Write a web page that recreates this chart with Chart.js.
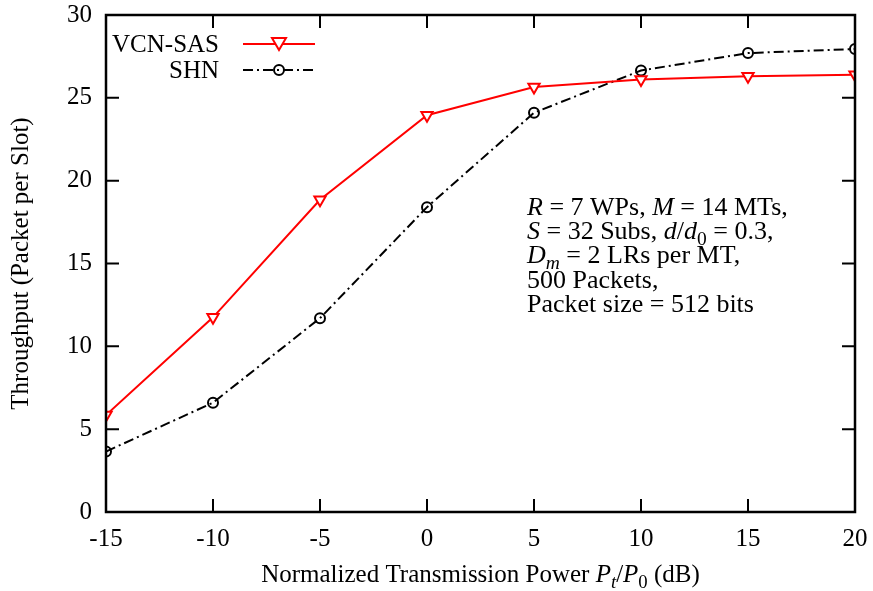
<!DOCTYPE html>
<html>
<head>
<meta charset="utf-8">
<script src="https://cdn.jsdelivr.net/npm/chart.js@4"></script>
<style>
body { margin: 0; background: #fff; }
#wrap { width: 873px; height: 591px; }
</style>
</head>
<body>
<div id="wrap"><canvas id="c" width="873" height="591"></canvas></div>
<script>
var power = [-15, -10, -5, 0, 5, 10, 15, 20]
var vcnSas = [5.85, 11.75, 18.85, 23.95, 25.65, 26.1, 26.3, 26.4]
var shn = [3.65, 6.6, 11.7, 18.4, 24.1, 26.65, 27.7, 27.95]
var xTicks = [-15, -10, -5, 0, 5, 10, 15, 20]
var yTicks = [0, 5, 10, 15, 20, 25, 30]

var FONT = "'Liberation Serif', 'Times New Roman', serif"

function pts(xs, ys) {
	return xs.map(function (x, i) { return { x: x, y: ys[i] } })
}

// draw a line of text made of pieces: [text, italic, sub]
function rich(ctx, x, y, parts, size) {
	ctx.textAlign = "left"
	ctx.textBaseline = "alphabetic"
	parts.forEach(function (p) {
		var s = p[2] ? size * 0.75 : size
		ctx.font = (p[1] ? "italic " : "") + s + "px " + FONT
		ctx.fillText(p[0], x, p[2] ? y + 6 : y)
		x += ctx.measureText(p[0]).width
	})
	return x
}

function richWidth(ctx, parts, size) {
	var w = 0
	parts.forEach(function (p) {
		ctx.font = (p[1] ? "italic " : "") + (p[2] ? size * 0.75 : size) + "px " + FONT
		w += ctx.measureText(p[0]).width
	})
	return w
}

var frame = {
	id: "frame",
	afterDraw: function (chart) {
		var ctx = chart.ctx, a = chart.chartArea
		var xs = chart.scales.x, ys = chart.scales.y
		ctx.save()
		ctx.strokeStyle = "#000"
		ctx.lineWidth = 2.5
		ctx.strokeRect(a.left, a.top, a.right - a.left, a.bottom - a.top)
		ctx.lineWidth = 2
		ctx.beginPath()
		xTicks.forEach(function (v) {
			var px = xs.getPixelForValue(v)
			ctx.moveTo(px, a.bottom); ctx.lineTo(px, a.bottom - 13)
			ctx.moveTo(px, a.top); ctx.lineTo(px, a.top + 13)
		})
		yTicks.forEach(function (v) {
			var py = ys.getPixelForValue(v)
			ctx.moveTo(a.left, py); ctx.lineTo(a.left + 13, py)
			ctx.moveTo(a.right, py); ctx.lineTo(a.right - 13, py)
		})
		ctx.stroke()

		// legend, gnuplot style: text right aligned, then sample
		ctx.font = "25px " + FONT
		ctx.fillStyle = "#000"
		ctx.textAlign = "right"
		ctx.textBaseline = "middle"
		ctx.fillText("VCN-SAS", 219, 45)
		ctx.fillText("SHN", 219, 71)
		ctx.lineWidth = 2
		ctx.strokeStyle = "#ff0000"
		ctx.beginPath(); ctx.moveTo(243, 44); ctx.lineTo(315, 44); ctx.stroke()
		ctx.beginPath()
		ctx.moveTo(272, 38); ctx.lineTo(286, 38); ctx.lineTo(279, 50); ctx.closePath()
		ctx.fillStyle = "#fff"; ctx.fill(); ctx.stroke()
		ctx.strokeStyle = "#000"
		ctx.setLineDash([10, 4, 2, 4])
		ctx.beginPath(); ctx.moveTo(243, 70); ctx.lineTo(315, 70); ctx.stroke()
		ctx.setLineDash([])
		ctx.beginPath(); ctx.arc(279, 70, 5, 0, Math.PI * 2); ctx.stroke()

		// annotation
		ctx.fillStyle = "#000"
		var L = 527, sz = 26
		rich(ctx, L, 215, [["R", 1], [" = 7 WPs, "], ["M", 1], [" = 14 MTs,"]], sz)
		rich(ctx, L, 239, [["S", 1], [" = 32 Subs, "], ["d", 1], ["/"], ["d", 1], ["0", 0, 1], [" = 0.3,"]], sz)
		rich(ctx, L, 263, [["D", 1], ["m", 1, 1], [" = 2 LRs per MT,"]], sz)
		rich(ctx, L, 288, [["500 Packets,"]], sz)
		rich(ctx, L, 312, [["Packet size = 512 bits"]], sz)

		// x axis title
		var parts = [["Normalized Transmission Power "], ["P", 1], ["t", 1, 1], ["/"], ["P", 1], ["0", 0, 1], [" (dB)"]]
		var w = richWidth(ctx, parts, 25)
		rich(ctx, (a.left + a.right) / 2 - w / 2, 582, parts, 25)

		// y axis title
		ctx.translate(21, (a.top + a.bottom) / 2)
		ctx.rotate(-Math.PI / 2)
		ctx.font = "25px " + FONT
		ctx.textAlign = "center"
		ctx.textBaseline = "middle"
		ctx.fillText("Throughput (Packet per Slot)", 0, 0)
		ctx.restore()
	}
}

new Chart(document.getElementById("c"), {
	type: "line",
	data: {
		datasets: [{
			label: "VCN-SAS",
			data: pts(power, vcnSas),
			borderColor: "#ff0000",
			backgroundColor: "#ffffff",
			borderWidth: 2,
			pointStyle: "triangle",
			rotation: 180,
			pointRadius: 6.5,
			pointBorderWidth: 2,
			tension: 0
		}, {
			label: "SHN",
			data: pts(power, shn),
			borderColor: "#000000",
			backgroundColor: "rgba(0,0,0,0)",
			borderWidth: 2,
			borderDash: [10, 4, 2, 4],
			pointStyle: "circle",
			pointRadius: 5,
			pointBorderWidth: 2,
			tension: 0
		}]
	},
	options: {
		responsive: false,
		animation: false,
		layout: { padding: { top: 15, right: 18, left: 0, bottom: 0 } },
		plugins: { legend: { display: false }, tooltip: { enabled: false } },
		scales: {
			x: {
				type: "linear", min: -15, max: 20,
				grid: { display: false, drawTicks: false },
				border: { display: false },
				afterBuildTicks: function (s) { s.ticks = xTicks.map(function (v) { return { value: v } }) },
				afterFit: function (s) { s.height = 79; s.paddingLeft = 0; s.paddingRight = 0 },
				ticks: { color: "#000", padding: 12, maxRotation: 0, font: { family: FONT, size: 25 } }
			},
			y: {
				min: 0, max: 30,
				grid: { display: false, drawTicks: false },
				border: { display: false },
				afterBuildTicks: function (s) { s.ticks = yTicks.map(function (v) { return { value: v } }) },
				afterFit: function (s) { s.width = 106; s.paddingTop = 0; s.paddingBottom = 0 },
				ticks: { color: "#000", padding: 14, font: { family: FONT, size: 25 } }
			}
		}
	},
	plugins: [frame]
})
</script>
</body>
</html>
